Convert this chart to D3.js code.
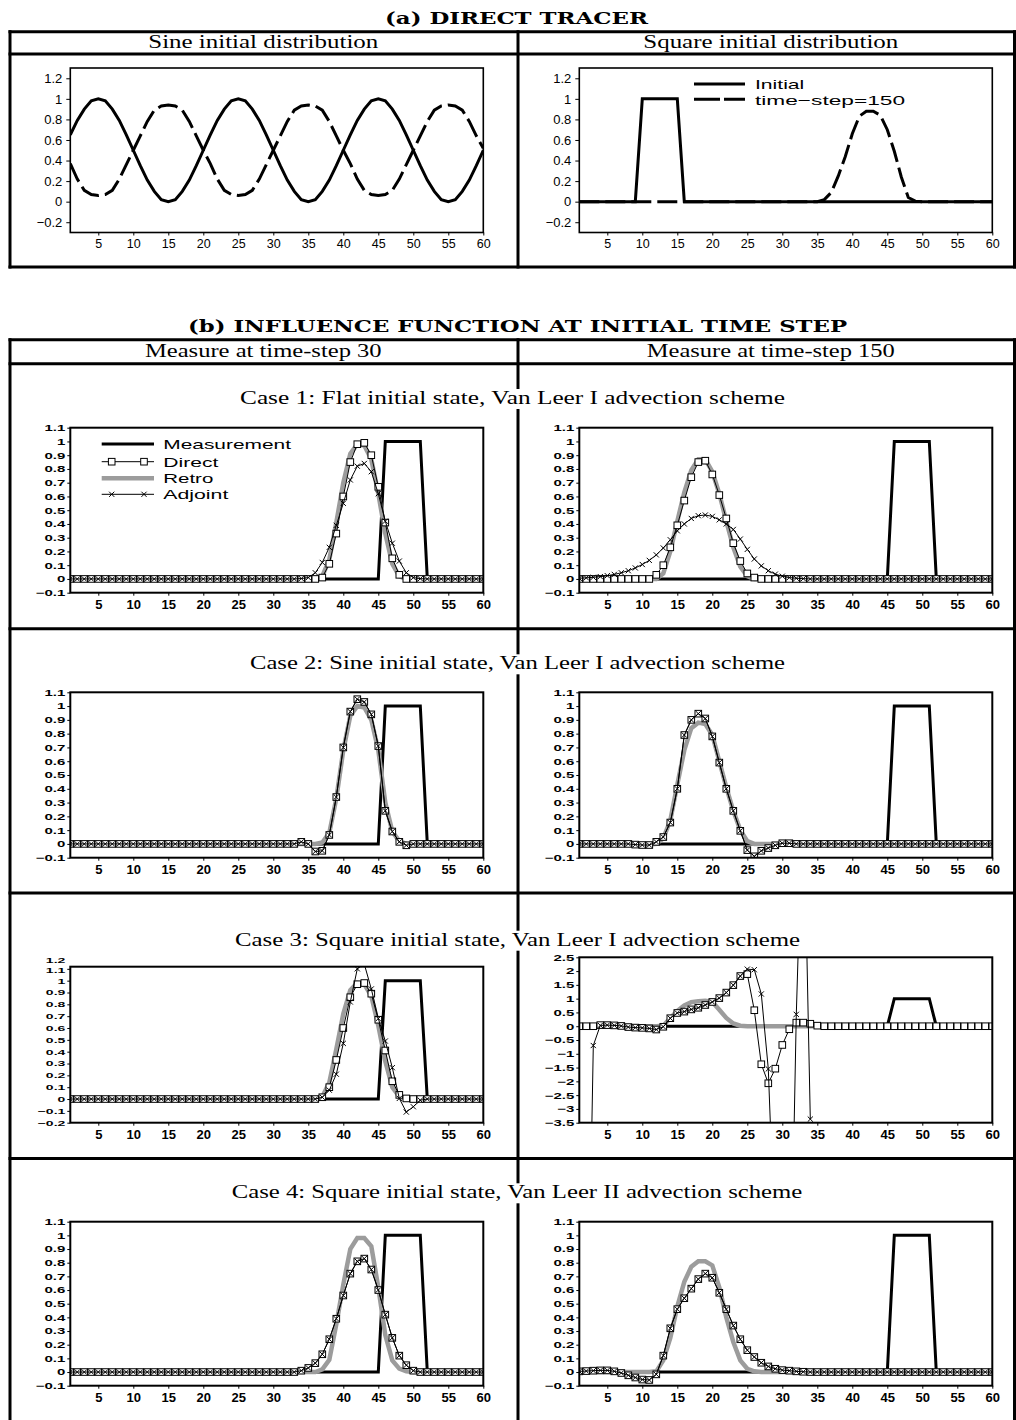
<!DOCTYPE html>
<html><head><meta charset="utf-8">
<script src="https://cdn.jsdelivr.net/npm/d3@7"></script>
<style>body{margin:0;background:#fff}</style>
</head><body><script>
// ---------------- DATA ----------------
const gridX = d3.range(1, 61);
const xTicks = [5,10,15,20,25,30,35,40,45,50,55,60];
const yTicksA = [-0.2,0,0.2,0.4,0.6,0.8,1,1.2];
const yTicksB = [-0.1,0,0.1,0.2,0.3,0.4,0.5,0.6,0.7,0.8,0.9,1,1.1];
const yTicksC3L = [-0.2,-0.1,0,0.1,0.2,0.3,0.4,0.5,0.6,0.7,0.8,0.9,1,1.1,1.2];
const yTicksC3R = [-3.5,-3,-2.5,-2,-1.5,-1,-0.5,0,0.5,1,1.5,2,2.5];

const sineInitial = [
 0.65,0.79,0.90,0.98,1.00,0.98,0.90,0.79,0.65,0.50,
 0.35,0.21,0.10,0.02,0.00,0.02,0.10,0.21,0.35,0.50,
 0.65,0.79,0.90,0.98,1.00,0.98,0.90,0.79,0.65,0.50,
 0.35,0.21,0.10,0.02,0.00,0.02,0.10,0.21,0.35,0.50,
 0.65,0.79,0.90,0.98,1.00,0.98,0.90,0.79,0.65,0.50,
 0.35,0.21,0.10,0.02,0.00,0.02,0.10,0.21,0.35,0.50];
const sineStep150 = [
 0.37,0.22,0.11,0.07,0.06,0.07,0.11,0.22,0.36,0.50,
 0.64,0.78,0.89,0.93,0.94,0.93,0.89,0.78,0.64,0.50,
 0.37,0.22,0.11,0.07,0.06,0.07,0.11,0.22,0.36,0.50,
 0.64,0.78,0.89,0.93,0.94,0.93,0.89,0.78,0.64,0.50,
 0.37,0.22,0.11,0.07,0.06,0.07,0.11,0.22,0.36,0.50,
 0.64,0.78,0.89,0.93,0.94,0.93,0.89,0.78,0.64,0.52];
const squareInitial = [
 0,0,0,0,0,0,0,0,0,1,
 1,1,1,1,1,0,0,0,0,0,
 0,0,0,0,0,0,0,0,0,0,
 0,0,0,0,0,0,0,0,0,0,
 0,0,0,0,0,0,0,0,0,0,
 0,0,0,0,0,0,0,0,0,0];
const squareStep150 = [
 0,0,0,0,0,0,0,0,0,0,
 0,0,0,0,0,0,0,0,0,0,
 0,0,0,0,0,0,0,0,0,0,
 0,0,0,0,0,0.02,0.09,0.25,0.44,0.66,
 0.83,0.88,0.88,0.84,0.70,0.49,0.24,0.04,0.005,0,
 0,0,0,0,0,0,0,0,0,0];
const measurement = [
 0,0,0,0,0,0,0,0,0,0,
 0,0,0,0,0,0,0,0,0,0,
 0,0,0,0,0,0,0,0,0,0,
 0,0,0,0,0,0,0,0,0,0,
 0,0,0,0,0,1,1,1,1,1,
 1,0,0,0,0,0,0,0,0,0];

// Case 1
const c1L_direct = [
 0,0,0,0,0,0,0,0,0,0, 0,0,0,0,0,0,0,0,0,0, 0,0,0,0,0,0,0,0,0,0,
 0,0,0,0,0,0,0.01,0.11,0.33,0.60,
 0.85,0.98,0.99,0.90,0.67,0.41,0.15,0.03,0,0,
 0,0,0,0,0,0,0,0,0,0];
const c1L_retro = [
 0,0,0,0,0,0,0,0,0,0, 0,0,0,0,0,0,0,0,0,0, 0,0,0,0,0,0,0,0,0,0,
 0,0,0,0,0,0,0.02,0.14,0.41,0.70,
 0.91,0.98,0.97,0.87,0.62,0.33,0.11,0.02,0,0,
 0,0,0,0,0,0,0,0,0,0];
const c1L_adjoint = [
 0,0,0,0,0,0,0,0,0,0, 0,0,0,0,0,0,0,0,0,0, 0,0,0,0,0,0,0,0,0,0,
 0,0,0,0.003,0.01,0.045,0.12,0.23,0.39,0.55,
 0.72,0.82,0.84,0.78,0.62,0.42,0.26,0.13,0.045,0.01,
 0.002,0,0,0,0,0,0,0,0,0];
const c1R_direct = [
 0,0,0,0,0,0,0,0,0,0,
 0,0.03,0.10,0.23,0.39,0.57,0.74,0.85,0.86,0.76,
 0.61,0.44,0.26,0.13,0.04,0.01,0,0,0,0,
 0,0,0,0,0,0,0,0,0,0, 0,0,0,0,0,0,0,0,0,0, 0,0,0,0,0,0,0,0,0,0];
const c1R_retro = [
 0,0,0,0,0,0,0,0,0,0,
 0,0,0.04,0.20,0.42,0.63,0.79,0.87,0.87,0.78,
 0.62,0.42,0.23,0.09,0.02,0,0,0,0,0,
 0,0,0,0,0,0,0,0,0,0, 0,0,0,0,0,0,0,0,0,0, 0,0,0,0,0,0,0,0,0,0];
const c1R_adjoint = [
 0.005,0.008,0.012,0.017,0.024,0.033,0.045,0.06,0.08,0.105,
 0.135,0.175,0.225,0.285,0.35,0.40,0.44,0.46,0.465,0.455,
 0.43,0.40,0.36,0.29,0.215,0.145,0.095,0.06,0.035,0.02,
 0.01,0.005,0.002,0,0,0,0,0,0,0,
 0,0,0,0,0,0,0,0,0,0, 0,0,0,0,0,0,0,0,0,0];

// Case 2 (direct and adjoint coincide)
const c2L_direct = [
 0,0,0,0,0,0,0,0,0,0, 0,0,0,0,0,0,0,0,0,0, 0,0,0,0,0,0,0,0,0,0,
 0,0,0,0.015,0,-0.055,-0.05,0.065,0.34,0.70,
 0.96,1.05,1.03,0.94,0.71,0.24,0.09,0.015,-0.01,0,
 0,0,0,0,0,0,0,0,0,0];
const c2L_retro = [
 0,0,0,0,0,0,0,0,0,0, 0,0,0,0,0,0,0,0,0,0, 0,0,0,0,0,0,0,0,0,0,
 0,0,0,0,0,0,0.01,0.08,0.33,0.68,
 0.93,1.00,0.99,0.90,0.68,0.30,0.09,0.02,0,0,
 0,0,0,0,0,0,0,0,0,0];
const c2L_adjoint = c2L_direct;
const c2R_direct = [
 0,0,0,0,0,0,0,0,-0.005,-0.008,
 -0.008,0.015,0.05,0.155,0.40,0.79,0.90,0.945,0.91,0.78,
 0.59,0.40,0.24,0.095,-0.045,-0.09,-0.05,-0.03,-0.01,0.005,
 0.005,0,0,0,0,0,0,0,0,0, 0,0,0,0,0,0,0,0,0,0, 0,0,0,0,0,0,0,0,0,0];
const c2R_retro = [
 0,0,0,0,0,0,0,-0.005,-0.01,-0.01,
 -0.005,0,0.04,0.17,0.43,0.68,0.84,0.88,0.87,0.79,
 0.60,0.41,0.24,0.10,0.02,0,0,0,0,0,
 0,0,0,0,0,0,0,0,0,0, 0,0,0,0,0,0,0,0,0,0, 0,0,0,0,0,0,0,0,0,0];
const c2R_adjoint = c2R_direct;

// Case 3
const c3L_direct = [
 0,0,0,0,0,0,0,0,0,0, 0,0,0,0,0,0,0,0,0,0, 0,0,0,0,0,0,0,0,0,0,
 0,0,0,0,0,0,0.015,0.10,0.33,0.60,
 0.86,0.97,0.98,0.89,0.67,0.41,0.15,0.035,0.005,0,
 0,0,0,0,0,0,0,0,0,0];
const c3L_retro = [
 0,0,0,0,0,0,0,0,0,0, 0,0,0,0,0,0,0,0,0,0, 0,0,0,0,0,0,0,0,0,0,
 0,0,0,0,0,0,0.02,0.14,0.42,0.72,
 0.92,0.98,0.97,0.87,0.62,0.32,0.10,0.02,0,0,
 0,0,0,0,0,0,0,0,0,0];
const c3L_adjoint = [
 0,0,0,0,0,0,0,0,0,0, 0,0,0,0,0,0,0,0,0,0, 0,0,0,0,0,0,0,0,0,0,
 0,0,0,0,0,0,0.015,0.075,0.21,0.47,
 0.82,1.10,1.14,0.93,0.68,0.49,0.265,0.005,-0.11,-0.065,
 -0.01,0,0,0,0,0,0,0,0,0];
const c3R_direct = [
 0,0,0,0.04,0.04,0.03,0.01,-0.03,-0.05,-0.06,
 -0.08,-0.12,-0.02,0.29,0.48,0.53,0.61,0.67,0.77,0.88,
 1.02,1.22,1.49,1.82,1.89,0.58,-1.38,-2.07,-1.54,-0.68,
 -0.11,0.13,0.13,0.09,0.02,0,0,0,0,0,
 0,0,0,0,0,0,0,0,0,0, 0,0,0,0,0,0,0,0,0,0];
const c3R_retro = [
 0,0,0,0,0,0,0,0,0,0,
 0,0,0.02,0.30,0.55,0.75,0.87,0.91,0.92,0.88,
 0.60,0.30,0.10,0.02,0,0,0,0,0,0,
 0,0,0,0,0,0,0,0,0,0, 0,0,0,0,0,0,0,0,0,0, 0,0,0,0,0,0,0,0,0,0];
const c3R_adjoint = [
 -20,-14.7,-0.7,0.03,0.04,0.03,0.01,-0.03,-0.05,-0.06,
 -0.08,-0.12,-0.02,0.29,0.48,0.53,0.61,0.67,0.77,0.88,
 1.02,1.22,1.49,1.82,2.07,2.05,1.17,-1.55,-8.3,-14,
 -12.6,0.43,8.9,-3.37,null,null,null,null,null,null,
 null,null,null,null,null,null,null,null,null,null,
 null,null,null,null,null,null,null,null,null,null];

// Case 4 (direct and adjoint coincide)
const c4L_direct = [
 0,0,0,0,0,0,0,0,0,0, 0,0,0,0,0,0,0,0,0,0, 0,0,0,0,0,0,0,0,0,0,
 0,0,0,0.01,0.03,0.065,0.13,0.24,0.39,0.56,
 0.72,0.81,0.83,0.75,0.60,0.42,0.25,0.12,0.05,0.01,
 0,0,0,0,0,0,0,0,0,0];
const c4L_retro = [
 0,0,0,0,0,0,0,0,0,0, 0,0,0,0,0,0,0,0,0,0, 0,0,0,0,0,0,0,0,0,0,
 0,0,0,0,0,0,0.02,0.09,0.35,0.64,
 0.90,0.98,0.98,0.92,0.62,0.27,0.085,0.025,0.005,0,
 0,0,0,0,0,0,0,0,0,0];
const c4L_adjoint = c4L_direct;
const c4R_direct = [
 0.005,0.007,0.01,0.012,0.012,0.005,-0.007,-0.024,-0.04,-0.055,
 -0.058,-0.017,0.12,0.32,0.46,0.54,0.61,0.68,0.72,0.69,
 0.58,0.46,0.34,0.24,0.16,0.11,0.068,0.041,0.024,0.014,
 0.01,0.005,0.002,0,0,0,0,0,0,0,
 0,0,0,0,0,0,0,0,0,0, 0,0,0,0,0,0,0,0,0,0];
const c4R_retro = [
 0,0,0,0,0,0,0,0,0,0,
 0,0.005,0.085,0.25,0.48,0.66,0.77,0.81,0.81,0.78,
 0.62,0.40,0.22,0.085,0.024,0.005,0,0,0,0,
 0,0,0,0,0,0,0,0,0,0, 0,0,0,0,0,0,0,0,0,0, 0,0,0,0,0,0,0,0,0,0];
const c4R_adjoint = c4R_direct;

// ---------------- DRAWING ----------------
const W = 1016, H = 1420;
const svg = d3.select('body').append('svg').attr('width', W).attr('height', H).style('display','block');
const defs = svg.append('defs');
const SERIF = "'Liberation Serif', 'DejaVu Serif', serif";
const SANS = "'Liberation Sans', Arial, sans-serif";
const GRAY = '#9c9c9c';
let clipN = 0;

function tableLine(x1, y1, x2, y2) {
  svg.append('line').attr('x1', x1).attr('y1', y1).attr('x2', x2).attr('y2', y2)
    .attr('stroke', '#000').attr('stroke-width', 3);
}
function text(t, cx, by, size, len, opts = {}) {
  const el = svg.append('text').attr('x', cx).attr('y', by)
    .attr('text-anchor', opts.anchor || 'middle')
    .attr('font-family', opts.family || SERIF)
    .attr('font-size', size)
    .attr('font-weight', opts.weight || 'normal')
    .attr('fill', '#000')
    .text(t);
  if (len) el.attr('textLength', len).attr('lengthAdjust', 'spacingAndGlyphs');
  return el;
}
function caption(t, cx, by, len) {
  svg.append('rect').attr('x', cx - len / 2 - 3).attr('y', by - 15).attr('width', len + 6).attr('height', 20).attr('fill', '#fff');
  text(t, cx, by, 19, len);
}

// table (a)
[31.7, 54, 267].forEach(y => tableLine(8.5, y, 1016, y));
[10, 518, 1014.5].forEach(x => tableLine(x, 30.2, x, 268.5));
// table (b)
[339.7, 363.7, 628.7, 893, 1158.5].forEach(y => tableLine(8.5, y, 1016, y));
[10, 518, 1014.5].forEach(x => tableLine(x, 338.2, x, 1420));

text('(a) DIRECT TRACER', 516.5, 24, 17, 263, {weight: 'bold', family: "'DejaVu Serif', serif"});
text('Sine initial distribution', 263.3, 48.3, 19, 230);
text('Square initial distribution', 770.8, 48.3, 19, 255);
text('(b) INFLUENCE FUNCTION AT INITIAL TIME STEP', 517.5, 331.7, 17, 659, {weight: 'bold', family: "'DejaVu Serif', serif"});
text('Measure at time-step 30', 263.3, 356.7, 19, 236.7);
text('Measure at time-step 150', 770.8, 356.7, 19, 248);
caption('Case 1: Flat initial state, Van Leer I advection scheme', 512.5, 404, 545);
caption('Case 2: Sine initial state, Van Leer I advection scheme', 517.5, 669.3, 535);
caption('Case 3: Square initial state, Van Leer I advection scheme', 517.5, 945.7, 565);
caption('Case 4: Square initial state, Van Leer II advection scheme', 517, 1198.3, 570.6);

const fmt = d3.format('~g');

function setupPanel(cfg) {
  const g = svg.append('g');
  const x = d3.scaleLinear().domain([1, 60]).range([cfg.left, cfg.right]);
  const y = d3.scaleLinear().domain(cfg.yDomain).range([cfg.bottom, cfg.top]);
  const id = 'clip' + (clipN++);
  defs.append('clipPath').attr('id', id).append('rect')
    .attr('x', cfg.left).attr('y', cfg.top).attr('width', cfg.right - cfg.left).attr('height', cfg.bottom - cfg.top);
  const plot = g.append('g').attr('clip-path', `url(#${id})`);
  return {g, x, y, plot};
}
function drawLine(P, values, style) {
  const pts = gridX.map((xv, i) => [xv, values[i]]);
  const line = d3.line().defined(d => d[1] != null).x(d => P.x(d[0])).y(d => P.y(d[1]));
  const p = P.plot.append('path').datum(pts).attr('d', line).attr('fill', 'none')
    .attr('stroke', style.color || '#000').attr('stroke-width', style.width)
    .attr('stroke-linejoin', 'miter');
  if (style.dash) p.attr('stroke-dasharray', style.dash);
  return pts.filter(d => d[1] != null);
}
function squares(sel, pts, P) {
  sel.selectAll(null).data(pts).join('rect')
    .attr('x', d => P.x(d[0]) - 3.3).attr('y', d => P.y(d[1]) - 3.3)
    .attr('width', 6.6).attr('height', 6.6)
    .attr('fill', '#fff').attr('stroke', '#000').attr('stroke-width', 1);
}
const crossPath = 'M-2.6,-2.6L2.6,2.6M-2.6,2.6L2.6,-2.6';
function crosses(sel, pts, P) {
  sel.selectAll(null).data(pts).join('path')
    .attr('transform', d => `translate(${P.x(d[0])},${P.y(d[1])})`)
    .attr('d', crossPath).attr('fill', 'none').attr('stroke', '#000').attr('stroke-width', 1);
}
function axes(P, cfg, style) {
  const yfont = cfg.yfont || style.yfont;
  const squash = cfg.squash || style.squash;
  const ya = P.g.append('g').attr('transform', `translate(${cfg.left},0)`)
    .call(d3.axisLeft(P.y).tickValues(cfg.yTicks).tickSize(style.ytick).tickPadding(style.ypad).tickFormat(fmt));
  ya.select('.domain').remove();
  ya.selectAll('text').attr('font-family', SANS).attr('font-size', yfont)
    .attr('font-weight', style.weight).attr('fill', '#000');
  if (squash) ya.selectAll('text').attr('transform', `scale(1,${squash})`);
  ya.selectAll('line').attr('stroke', '#000');
  const dmax = cfg.yDomain[1];
  ya.selectAll('.tick').each(function(v) {
    if (v > dmax + 1e-9) {
      d3.select(this).attr('transform', `translate(0,${cfg.top - 6})`);
      d3.select(this).select('line').remove();
    } else if (cfg.shift && cfg.shift[v] != null) {
      d3.select(this).select('text').attr('y', cfg.shift[v] / (squash || 1));
    }
  });
  const xa = P.g.append('g').attr('transform', `translate(0,${cfg.bottom})`)
    .call(d3.axisBottom(P.x).tickValues(xTicks).tickSize(3).tickPadding(style.xpad).tickFormat(fmt));
  xa.select('.domain').remove();
  xa.selectAll('text').attr('font-family', SANS).attr('font-size', style.xfont)
    .attr('font-weight', style.weight).attr('fill', '#000');
  xa.selectAll('line').attr('stroke', '#000');
  P.g.append('rect').attr('x', cfg.left).attr('y', cfg.top)
    .attr('width', cfg.right - cfg.left).attr('height', cfg.bottom - cfg.top)
    .attr('fill', 'none').attr('stroke', '#000').attr('stroke-width', style.frame);
}

// ---- (a) panels ----
const styleA = {ytick: 4, ypad: 4, yfont: 13, xfont: 12.5, xpad: 4, weight: 'normal', frame: 1.6};
const panelsA = [
  {left: 70.3, right: 483.3, top: 68, bottom: 232.5, yDomain: [-0.3, 1.3], yTicks: yTicksA,
   solid: sineInitial, dashed: sineStep150},
  {left: 579.3, right: 992.3, top: 68, bottom: 232.5, yDomain: [-0.3, 1.3], yTicks: yTicksA,
   solid: squareInitial, dashed: squareStep150, legend: true}
];
panelsA.forEach(cfg => {
  const P = setupPanel(cfg);
  drawLine(P, cfg.solid, {width: 3});
  drawLine(P, cfg.dashed, {width: 3, dash: '20,6'});
  axes(P, cfg, styleA);
  if (cfg.legend) {
    const lg = P.g.append('g');
    lg.append('line').attr('x1', 694).attr('x2', 745).attr('y1', 84).attr('y2', 84).attr('stroke', '#000').attr('stroke-width', 3);
    lg.append('line').attr('x1', 694).attr('x2', 745).attr('y1', 99.3).attr('y2', 99.3).attr('stroke', '#000').attr('stroke-width', 3).attr('stroke-dasharray', '26,4');
    text('Initial', 755, 89, 13.5, 49.3, {anchor: 'start', family: SANS});
    text('time\u2212step=150', 755, 104.7, 13.5, 150, {anchor: 'start', family: SANS});
  }
});

// ---- (b) panels ----
const styleB = {ytick: 3, ypad: 2, yfont: 15, xfont: 13, xpad: 4.5, weight: 'bold', frame: 2, squash: 0.6};
const LX = [70.3, 483.3], RX = [579.3, 992.3];
const panelsB = [
  {left: LX[0], right: LX[1], top: 427.7, bottom: 592.7, yDomain: [-0.1, 1.1], yTicks: yTicksB,
   direct: c1L_direct, retro: c1L_retro, adjoint: c1L_adjoint, legend: true},
  {left: RX[0], right: RX[1], top: 427.7, bottom: 592.7, yDomain: [-0.1, 1.1], yTicks: yTicksB,
   direct: c1R_direct, retro: c1R_retro, adjoint: c1R_adjoint},
  {left: LX[0], right: LX[1], top: 692.3, bottom: 857.7, yDomain: [-0.1, 1.1], yTicks: yTicksB,
   direct: c2L_direct, retro: c2L_retro, adjoint: c2L_adjoint},
  {left: RX[0], right: RX[1], top: 692.3, bottom: 857.7, yDomain: [-0.1, 1.1], yTicks: yTicksB,
   direct: c2R_direct, retro: c2R_retro, adjoint: c2R_adjoint},
  {left: LX[0], right: LX[1], top: 966.7, bottom: 1122.7, yDomain: [-0.2, 1.118], yTicks: yTicksC3L,
   direct: c3L_direct, retro: c3L_retro, adjoint: c3L_adjoint, shift: {1.1: 1.5}, yfont: 14, squash: 0.55},
  {left: RX[0], right: RX[1], top: 957.3, bottom: 1122.7, yDomain: [-3.5, 2.5], yTicks: yTicksC3R,
   direct: c3R_direct, retro: c3R_retro, adjoint: c3R_adjoint},
  {left: LX[0], right: LX[1], top: 1221.7, bottom: 1385.7, yDomain: [-0.1, 1.1], yTicks: yTicksB,
   direct: c4L_direct, retro: c4L_retro, adjoint: c4L_adjoint},
  {left: RX[0], right: RX[1], top: 1221.7, bottom: 1385.7, yDomain: [-0.1, 1.1], yTicks: yTicksB,
   direct: c4R_direct, retro: c4R_retro, adjoint: c4R_adjoint}
];
panelsB.forEach(cfg => {
  const P = setupPanel(cfg);
  drawLine(P, measurement, {width: 3});
  drawLine(P, cfg.retro, {width: 4.5, color: GRAY});
  const dp = drawLine(P, cfg.direct, {width: 1});
  squares(P.plot, dp, P);
  const ap = drawLine(P, cfg.adjoint, {width: 1});
  crosses(P.plot, ap, P);
  axes(P, cfg, styleB);
  if (cfg.legend) {
    const lg = P.g.append('g');
    const x1 = 101.7, x2 = 154, tx = 163.3;
    const rows = [
      {label: 'Measurement', y: 444, len: 127.7},
      {label: 'Direct', y: 461.7, len: 55},
      {label: 'Retro', y: 478.3, len: 50},
      {label: 'Adjoint', y: 494.3, len: 65}
    ];
    lg.append('line').attr('x1', x1).attr('x2', x2).attr('y1', rows[0].y).attr('y2', rows[0].y).attr('stroke', '#000').attr('stroke-width', 3);
    lg.append('line').attr('x1', x1).attr('x2', x2).attr('y1', rows[1].y).attr('y2', rows[1].y).attr('stroke', '#000').attr('stroke-width', 1);
    lg.selectAll(null).data([111.7, 144]).join('rect')
      .attr('x', d => d - 3.3).attr('y', rows[1].y - 3.3).attr('width', 6.6).attr('height', 6.6)
      .attr('fill', '#fff').attr('stroke', '#000');
    lg.append('line').attr('x1', x1).attr('x2', x2).attr('y1', rows[2].y).attr('y2', rows[2].y).attr('stroke', GRAY).attr('stroke-width', 4.5);
    lg.append('line').attr('x1', x1).attr('x2', x2).attr('y1', rows[3].y).attr('y2', rows[3].y).attr('stroke', '#000').attr('stroke-width', 1);
    lg.selectAll(null).data([111.7, 144]).join('path')
      .attr('transform', d => `translate(${d},${rows[3].y})`).attr('d', crossPath)
      .attr('stroke', '#000').attr('fill', 'none');
    rows.forEach(r => text(r.label, tx, r.y + 5, 13.5, r.len, {anchor: 'start', family: SANS}));
  }
});
</script></body></html>
